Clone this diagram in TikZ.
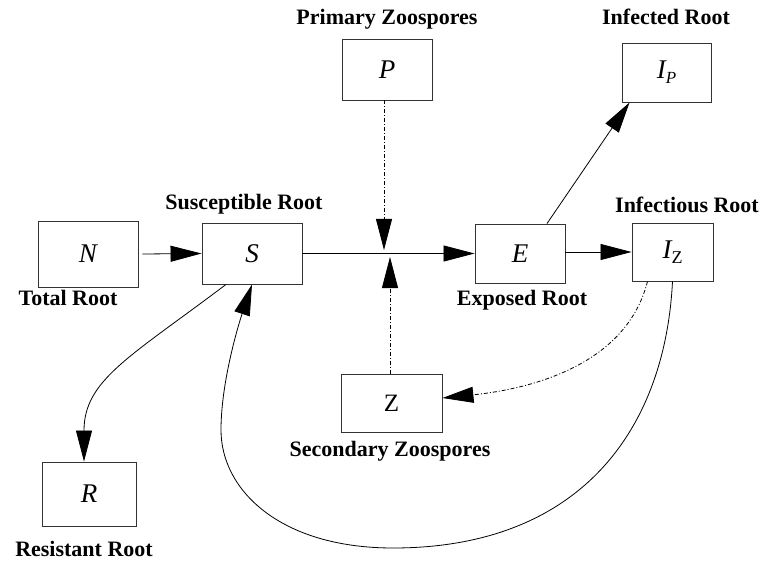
\documentclass[tikz,border=0pt]{standalone}
\usepackage{fontspec}
\setmainfont{Liberation Serif}
\usetikzlibrary{arrows.meta,calc}
\tikzset{
  box/.style={draw=black!80, line width=0.9pt, inner sep=0pt, fill=white},
  varf/.style={font=\fontsize{27}{30}\selectfont\itshape},
  lbl/.style={font=\fontsize{22}{26}\selectfont\bfseries, anchor=base, inner sep=0pt},
  conn/.style={line width=0.8pt, -{Triangle[length=31pt,width=16pt]}},
  dd/.style={dash pattern=on 4pt off 2pt on 1pt off 2pt}
}
\begin{document}
\begin{tikzpicture}[x=1pt,y=-1pt]
\useasboundingbox[fill=white] (0,0) rectangle (769,567);
% boxes
\node[box, varf, minimum width=100pt, minimum height=66pt] (N) at (88,254) {N};
\node[box, varf, minimum width=100pt, minimum height=61pt] (S) at (252,253.5) {S};
\node[box, varf, minimum width=90pt, minimum height=61pt] (P) at (387,69.5) {P};
\node[box, varf, minimum width=90pt, minimum height=59pt] (E) at (520,253.5) {E};
\node[box, varf, minimum width=89pt, minimum height=59pt] (IP) at (666.5,72.5) {I\raisebox{-5pt}{\fontsize{17}{17}\selectfont P}};
\node[box, varf, minimum width=81pt, minimum height=58pt] (IZ) at (672.5,252) {I\raisebox{-5pt}{\fontsize{18}{18}\selectfont\upshape Z}};
\node[box, font=\fontsize{25}{28}\selectfont, minimum width=101pt, minimum height=58pt] (Z) at (391.5,403) {Z};
\node[box, varf, minimum width=94pt, minimum height=64pt] (R) at (89,494) {R};
% labels
\node[lbl] (lP) at (387,25) {Primary Zoospores};
\node[lbl] (lIP) at (666,25) {Infected Root};
\node[lbl] (lS) at (244,209) {Susceptible Root};
\node[lbl] (lIZ) at (687,212) {Infectious Root};
\node[lbl] (lN) at (68,305) {Total Root};
\node[lbl] (lE) at (522,305) {Exposed Root};
\node[lbl] (lZ) at (390,456) {Secondary Zoospores};
\node[lbl] (lR) at (84,556) {Resistant Root};
% junction points
\coordinate (jt) at (384,250);
\coordinate (jb) at (390,257);
% connectors
\draw[conn] ([xshift=4pt]N.east) -- (S.west);
\draw[conn] (S.east) -- (E.west);
\draw[conn,dd] (P.south -| jt) -- (jt);
\draw[conn,dd] (Z.north -| jb) -- (jb);
\draw[conn] (E.east |- IZ.west) -- (IZ.west);
\draw[conn] ([xshift=27pt]E.north) -- ([xshift=8pt]IP.south west);
\draw[conn,dd] ([xshift=-25pt]IZ.south) .. controls (625,370) and (520,390) .. ([yshift=5pt]Z.east);
\draw[conn] (IZ.south) .. controls (665,430) and (580,548) .. (393,548)
  .. controls (280,548) and (221,490) .. (221,430)
  .. controls (221,380) and (240,320) .. (S.south);
\draw[conn] ([xshift=-26pt]S.south) .. controls (130,357) and (84,380) .. ([xshift=-5pt]R.north);
\end{tikzpicture}
\end{document}
